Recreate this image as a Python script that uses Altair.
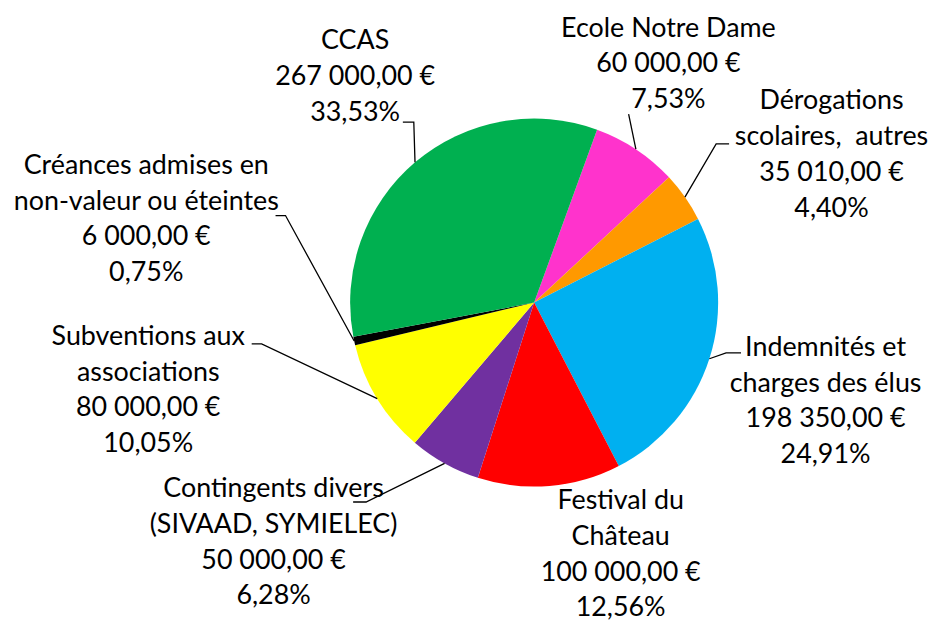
import math
import altair as alt
import pandas as pd

# ---- data ----
names = [
    "Ecole Notre Dame",
    "Dérogations\nscolaires,\u00a0 autres",
    "Indemnités et\ncharges des élus",
    "Festival du\nChâteau",
    "Contingents divers\n(SIVAAD, SYMIELEC)",
    "Subventions aux\nassociations",
    "Créances admises en\nnon-valeur ou éteintes",
    "CCAS",
]
values = [60000, 35010, 198350, 100000, 50000, 80000, 6000, 267000]
colors = ["#FF33CC", "#FF9900", "#00B0F0", "#FF0000", "#7030A0", "#FFFF00", "#000000", "#00B050"]

# ---- layout (page pixels) ----
W, H = 921, 606
CX, CY, R = 537, 302.5, 185
START_DEG = 20
FONT = "Lato"
FS = 27
LH = 36
# label anchor: centre x, first baseline y
label_pos = [
    (672, 35), (836, 108), (830, 356), (624, 510),
    (275, 498), (149, 345), (147, 173), (357, 48),
]
# leader line points on the label side (None = no leader)
leader_pts = [
    [(632, 113)],
    [(733, 143), (720, 143)],
    [(745, 353), (730, 353)],
    None,
    [(355, 503), (368, 503)],
    [(253, 344), (263, 344)],
    [(277, 215), (287, 215)],
    [(405, 121), (416, 121)],
]


def fr_money(v):
    s = f"{v:,.2f}".replace(",", " ").replace(".", ",")
    return s + " €"


total = sum(values)
df = pd.DataFrame({"name": names, "value": values, "idx": list(range(len(names)))})

label_rows, line_rows = [], []
cum = 0.0
for i, (n, v) in enumerate(zip(names, values)):
    pct = v / total * 100
    txt = f"{n}\n{fr_money(v)}\n{pct:.2f}".replace(".", ",") + "%"
    lx, ly = label_pos[i]
    label_rows.append({"txt": txt, "lx": lx, "ly": ly})
    mid = math.radians(START_DEG + (cum + v / 2) / total * 360)
    cum += v
    if leader_pts[i] is not None:
        pts = leader_pts[i] + [(CX + R * math.sin(mid), CY - R * math.cos(mid))]
        for j, (px, py) in enumerate(pts):
            line_rows.append({"key": i, "seq": j, "px": px, "py": py})

labels = pd.DataFrame(label_rows)
lines = pd.DataFrame(line_rows)

a0 = math.radians(START_DEG)
xs = alt.Scale(domain=[8, 8 + W], range=[0, W])
ys = alt.Scale(domain=[8, 8 + H], range=[0, H])

pie = alt.Chart(df).mark_arc(outerRadius=R).encode(
    theta=alt.Theta("value:Q", stack=True, scale=alt.Scale(range=[a0, a0 + 2 * math.pi])),
    color=alt.Color("name:N", scale=alt.Scale(domain=names, range=colors), legend=None),
    order=alt.Order("idx:Q"),
    x=alt.value(CX - 8),
    y=alt.value(CY - 8),
)

leaders = alt.Chart(lines).mark_line(color="black", strokeWidth=1.3).encode(
    x=alt.X("px:Q", scale=xs, axis=None),
    y=alt.Y("py:Q", scale=ys, axis=None),
    detail="key:N",
    order="seq:Q",
)

text = alt.Chart(labels).mark_text(
    font=FONT, fontSize=FS, lineBreak="\n", lineHeight=LH,
    align="center", baseline="alphabetic", color="black",
).encode(
    x=alt.X("lx:Q", scale=xs, axis=None),
    y=alt.Y("ly:Q", scale=ys, axis=None),
    text="txt:N",
)

chart = alt.layer(pie, leaders, text).properties(
    width=W, height=H, padding=0, background="white"
).configure_view(stroke=None)

chart.save("out.html", embed_options={"renderer": "svg", "actions": False})
